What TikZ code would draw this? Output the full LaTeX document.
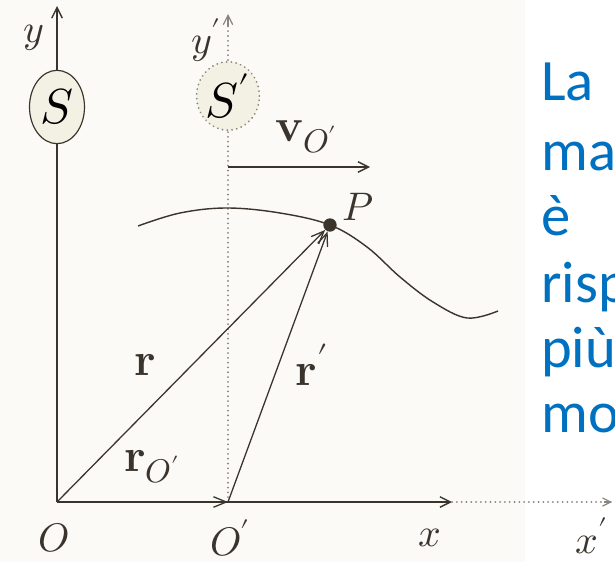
\documentclass[tikz,border=0pt]{standalone}
\usepackage{fontspec}
\usepackage{unicode-math}
\setmathfont{Latin Modern Math}
\newfontfamily\notefont{Carlito}
\usetikzlibrary{arrows.meta,shapes.geometric}
\definecolor{ink}{HTML}{3B342C}
\definecolor{paper}{HTML}{F3F0E4}
\definecolor{note}{HTML}{0070C0}
\definecolor{dotgray}{HTML}{8A857C}

\tikzset{
  lbl/.style={font=\fontsize{34}{38}\selectfont, text=ink, inner sep=0pt},
  veclbl/.style={lbl, font=\fontsize{40}{44}\selectfont},
  axis/.style={draw=ink, line width=1.5pt, -{Straight Barb[length=9pt,width=9pt,line width=1.2pt]}},
  movaxis/.style={draw=dotgray, line width=1.6pt, line cap=round, dash pattern=on 0.1pt off 4pt},
  vec/.style={draw=ink, line width=1.1pt, -{Straight Barb[length=11pt,width=9pt,line width=1.1pt]}},
  frame/.style={ellipse, draw=ink, fill=paper, line width=1pt, minimum width=1.65cm, minimum height=2.2cm, inner sep=0pt, font=\fontsize{42}{46}\selectfont},
}

\begin{document}
\begin{tikzpicture}[x=0.03cm,y=-0.03cm]
  \useasboundingbox (0,0) rectangle (615,562);
  \fill[white] (0,0) rectangle (615,562);
  \fill[paper!30] (0,0) rectangle (525,562);

  % origins and point
  \coordinate (O) at (57,502);
  \coordinate (Op) at (228,502);
  \coordinate (ytip) at (57,6);
  \coordinate (yptip) at (228,14);
  \coordinate (xtip) at (452,502);
  \coordinate (xptip) at (612,502);

  % fixed frame S
  \draw[axis] (O) -- (ytip);
  \node[frame] (S) at (57,107) {$S$};

  % moving frame S'
  \draw[movaxis] (Op) -- (yptip);
  \draw[dotgray, line width=1pt, -{Straight Barb[length=8pt,width=8pt]}] (228,26) -- (yptip);
  \node[frame, draw=dotgray, line width=1.6pt, line cap=round, dash pattern=on 0.1pt off 4pt,
        minimum width=1.6cm, minimum height=2.05cm] (Sp) at (228,96) {$S'$};

  % x axes
  \draw[axis] (O) -- (xtip);
  \draw[movaxis] (xtip) -- (xptip);
  \draw[dotgray, line width=1pt, -{Straight Barb[length=7pt,width=7pt]}] (604,502) -- (xptip);

  % velocity of O'
  \coordinate (vs) at (228,167);
  \coordinate (ve) at (370,167);
  \draw[axis, line width=1.3pt] (vs) -- (ve);
  \node[veclbl] (vlab) at (306,137) {$\mathbf{v}_{O'}$};

  % trajectory
  \draw[ink, line width=1.2pt, smooth, tension=0.6] plot coordinates
    {(138,226) (180,213) (227,208) (280,213) (330,225) (367,247) (400,277) (433,302) (467,318) (498,311)};
  \node[circle, fill=ink, inner sep=0pt, minimum size=0.4cm] (P) at (330,225) {};
  \node[lbl] (Plab) at (358,207) {$P$};

  % position vectors
  \draw[vec] (O) -- (P);
  \draw[vec] (Op) -- (P);
  \draw[vec] (O) -- (Op);
  \node[veclbl] (rlab) at (145,365) {$\mathbf{r}$};
  \node[veclbl] (rplab) at (312,365) {$\mathbf{r}'$};
  \node[veclbl] (r0lab) at (152,467) {$\mathbf{r}_{O'}$};

  % axis labels
  \node[lbl] (ylab) at (34,38) {$y$};
  \node[lbl] (yplab) at (206,40) {$y'$};
  \node[lbl] (olab) at (54,538) {$O$};
  \node[lbl] (oplab) at (230,538) {$O'$};
  \node[lbl] (xlab) at (430,538) {$x$};
  \node[lbl] (xplab) at (592,536) {$x'$};

  % text on the right, cut by the page edge
  \begin{scope}
    \clip (0,0) rectangle (615,562);
    \foreach \word/\yy in {La/100, mat/170, \`e/235, risp/302, pi\`u/367, mo/432}
      \node[anchor=base west, inner sep=0pt, text=note, font=\notefont\fontsize{50}{56}\selectfont] at (541,\yy) {\word};
  \end{scope}
\end{tikzpicture}
\end{document}
